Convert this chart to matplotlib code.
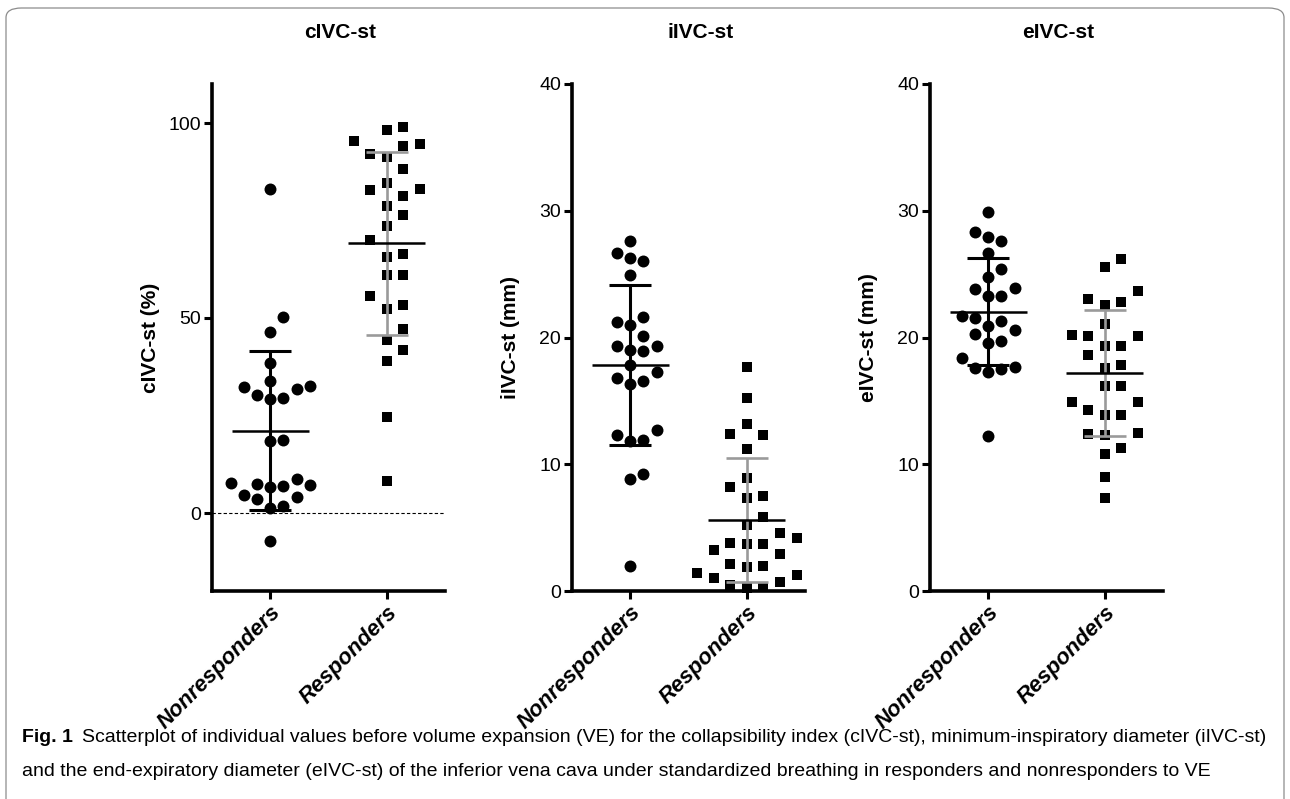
import numpy as np
import matplotlib.pyplot as plt
from matplotlib import font_manager
from matplotlib.patches import FancyBboxPatch

plt.rcParams['font.family'] = ['Liberation Sans', 'DejaVu Sans']

W, H = 1290, 799

groups = ['Nonresponders', 'Responders']
titles = ['cIVC-st', 'iIVC-st', 'eIVC-st']
ylabels = ['cIVC-st (%)', 'iIVC-st (mm)', 'eIVC-st (mm)']

# values
civc_non = [83.0, 50.2, 46.5, 38.5, 33.8, 32.4, 32.5, 31.7, 30.2, 29.3, 29.5,
            18.6, 18.5, 7.7, 7.2, 6.6, 7.0, 7.5, 8.6, 4.2, 3.6, 4.5, 1.9, 1.3, -7.1]
civc_resp = [98.3, 99.0, 94.7, 94.2, 95.4, 92.0, 91.4, 88.3, 84.6, 82.7, 83.1,
             81.3, 78.8, 76.4, 73.6, 70.0, 65.7, 66.4, 61.0, 61.0, 55.6, 52.3,
             53.3, 47.3, 44.3, 41.7, 39.0, 24.6, 8.3]
iivc_non = [27.6, 26.3, 26.0, 26.7, 24.9, 21.6, 21.0, 21.2, 20.1, 19.3, 19.0,
            19.3, 18.9, 17.8, 17.3, 16.6, 16.3, 16.8, 12.3, 11.8, 11.9, 12.7,
            9.2, 8.8, 2.0]
iivc_resp = [17.7, 15.2, 13.2, 12.4, 12.3, 11.2, 8.9, 8.2, 7.3, 7.5, 5.8, 5.2,
             4.6, 4.2, 3.8, 3.7, 3.7, 3.2, 2.9, 2.0, 1.9, 2.1, 1.4, 1.0, 1.3,
             0.7, 0.5, 0.3, 0.2]
eivc_non = [29.9, 27.9, 28.3, 27.6, 26.7, 25.4, 24.8, 23.8, 23.9, 23.3, 23.3,
            21.7, 21.3, 21.5, 20.9, 20.6, 20.3, 19.6, 19.7, 18.4, 17.7, 17.5,
            17.3, 17.6, 12.2]
eivc_resp = [26.2, 25.6, 23.7, 22.8, 22.6, 23.0, 21.1, 20.1, 20.1, 20.2, 19.3,
             19.3, 18.6, 17.6, 17.8, 16.2, 16.2, 14.9, 14.9, 14.3, 13.9, 13.9,
             12.4, 12.3, 12.5, 10.8, 11.3, 9.0, 7.3]

panels = [(civc_non, civc_resp), (iivc_non, iivc_resp), (eivc_non, eivc_resp)]
ylims = [(-20, 110), (0, 40), (0, 40)]
yticks = [[0, 50, 100], [0, 10, 20, 30, 40], [0, 10, 20, 30, 40]]

caption_bold = 'Fig. 1'
caption_1 = ('Scatterplot of individual values before volume expansion (VE) for the '
             'collapsibility index (cIVC-st), minimum-inspiratory diameter (iIVC-st)')
caption_2 = ('and the end-expiratory diameter (eIVC-st) of the inferior vena cava under '
             'standardized breathing in responders and nonresponders to VE')


def swarm(vals, ppx, ppy, step, wx, wy):
    # simple beeswarm, bottom up: push each point sideways until its box is free
    vals = np.asarray(vals, float)
    offs = np.zeros(len(vals))
    placed = []
    for i in np.argsort(vals, kind='stable'):
        y = vals[i] * ppy
        for k in range(60):
            m = (k + 1) // 2
            c = m * step * (1 if k % 2 else -1)
            hit = any(abs(c - px) < wx and abs(y - py) < wy for px, py in placed)
            if not hit:
                break
        offs[i] = c
        placed.append((c, y))
    return offs / ppx


fig = plt.figure(figsize=(W / 100, H / 100), dpi=100)

lefts = [212, 572, 930]
ax_w, ax_top, ax_bot = 233, 84, 591
grey = '#9a9a9a'

for p, (non, resp) in enumerate(panels):
    ax = fig.add_axes([lefts[p] / W, (H - ax_bot) / H, ax_w / W, (ax_bot - ax_top) / H])
    ax.set_xlim(-0.5, 1.5)
    ax.set_ylim(*ylims[p])
    ppx = ax_w / 2.0
    ppy = (ax_bot - ax_top) / (ylims[p][1] - ylims[p][0])

    for g, vals in enumerate([non, resp]):
        vals = np.asarray(vals)
        if g == 0:
            xs = g + swarm(vals, ppx, ppy, 6.6, 13.0, 15.0)
            ax.scatter(xs, vals, s=74, marker='o', color='k', lw=0, zorder=2, clip_on=False)
            bar_col, bar_lw = 'k', 2.2
        else:
            xs = g + swarm(vals, ppx, ppy, 8.3, 16.0, 17.0)
            ax.scatter(xs, vals, s=57, marker='s', color='k', lw=0, zorder=2, clip_on=False)
            bar_col, bar_lw = grey, 1.9
        m = vals.mean()
        sd = vals.std(ddof=1)
        ax.plot([g, g], [m - sd, m + sd], color=bar_col, lw=bar_lw, zorder=3,
                solid_capstyle='butt')
        for yy in (m - sd, m + sd):
            ax.plot([g - 0.18, g + 0.18], [yy, yy], color=bar_col, lw=bar_lw, zorder=3,
                    solid_capstyle='butt')
        ax.plot([g - 0.33, g + 0.33], [m, m], color='k', lw=1.8, zorder=3,
                solid_capstyle='butt')

    if ylims[p][0] < 0:
        ax.axhline(0, color='k', lw=0.8, ls=(0, (3, 2)), zorder=1)

    for s in ['top', 'right']:
        ax.spines[s].set_visible(False)
    for s in ['left', 'bottom']:
        ax.spines[s].set_linewidth(2.6)
    ax.tick_params(width=2.2, length=6, labelsize=14, pad=2)
    ax.set_yticks(yticks[p])
    ax.set_xticks([0, 1])
    ax.set_xticklabels(groups, rotation=45, ha='right', va='top',
                       rotation_mode='anchor', fontweight='bold',
                       fontstyle='italic', fontsize=16)
    ax.set_ylabel(ylabels[p], fontsize=15, fontweight='bold')
    ax.yaxis.set_label_coords(-52 / ax_w, 0.5)
    ax.text(0.55, 1 + 52 / (ax_bot - ax_top), titles[p], transform=ax.transAxes,
            ha='center', va='center', fontsize=15, fontweight='bold')

# rounded frame around the figure
frame = FancyBboxPatch((6 / W, -0.05), 1 - 12 / W, 1.05 - 8 / H,
                       boxstyle='round,pad=0,rounding_size=0.012',
                       transform=fig.transFigure, fill=False,
                       ec='#8c8c8c', lw=0.9)
fig.patches.append(frame)

names = {f.name for f in font_manager.fontManager.ttflist}
cap_font = 'Liberation Sans Narrow' if 'Liberation Sans Narrow' in names else 'Liberation Sans'
cap_size = 16.5 if cap_font == 'Liberation Sans Narrow' else 14

fig.canvas.draw()
r = fig.canvas.get_renderer()
t0 = fig.text(22 / W, 1 - 738 / H, caption_bold, family=cap_font, fontweight='bold',
              fontsize=cap_size, va='center', ha='left')
bb = t0.get_window_extent(renderer=r)
fig.text((bb.x1 + 9) / W, 1 - 738 / H, caption_1, family=cap_font, fontsize=cap_size,
         va='center', ha='left')
fig.text(22 / W, 1 - 771 / H, caption_2, family=cap_font, fontsize=cap_size,
         va='center', ha='left')

fig.savefig('out.png', dpi=100)
